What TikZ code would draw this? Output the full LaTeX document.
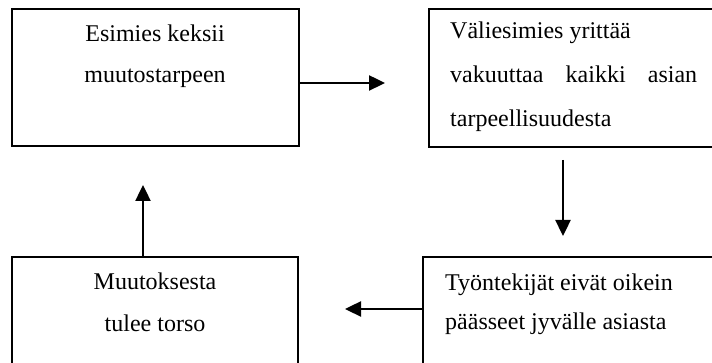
\documentclass[tikz,border=0pt]{standalone}
\usepackage{fontspec}
\setmainfont{Liberation Serif}
\usepackage{tikz}
\usetikzlibrary{calc}
\usetikzlibrary{arrows.meta}
\tikzstyle{box} = [draw, line width=1.4pt, rectangle, inner sep=0pt]
\tikzstyle{txt} = [inner sep=0pt, font=\fontsize{24}{28}\selectfont]
\tikzstyle{flow} = [line width=2.4pt, -{Triangle[length=16pt,width=15pt]}]

\begin{document}
\begin{tikzpicture}[x=1pt,y=1pt]
	\useasboundingbox (0,0) rectangle (712,363);
	\clip (0,0) rectangle (712,363);

	% laatikot
	\node[box, minimum width=287pt, minimum height=137pt] (esimies) at (155.5,285.5) {};
	\node[box, minimum width=311pt, minimum height=138pt] (valiesimies) at (584.5,285) {};
	\node[box, minimum width=317pt, minimum height=146pt] (tyontekijat) at (581.5,33) {};
	\node[box, minimum width=286pt, minimum height=146pt] (torso) at (155,33) {};

	% tekstit
	\node[txt, anchor=base] (esimies1) at (155,321) {Esimies keksii};
	\node[txt, anchor=base] (esimies2) at (155,280) {muutostarpeen};

	\node[txt, anchor=base west] (valiesimies1) at (450,324) {Väliesimies yrittää};
	\node[txt, anchor=base west] (valiesimies2) at (450,280) {\makebox[247pt][s]{vakuuttaa kaikki asian}};
	\node[txt, anchor=base west] (valiesimies3) at (450,236) {tarpeellisuudesta};

	\node[txt, anchor=base west] (tyontekijat1) at (445,72) {Työntekijät eivät oikein};
	\node[txt, anchor=base west] (tyontekijat2) at (445,33) {päässeet jyvälle asiasta};

	\node[txt, anchor=base] (torso1) at (155,73) {Muutoksesta};
	\node[txt, anchor=base] (torso2) at (155,31) {tulee torso};

	% nuolet
	\coordinate (ab) at (385,280);
	\coordinate (bctop) at (563,203);
	\coordinate (bc) at (563,127);
	\coordinate (cd) at (345,54);
	\coordinate (da) at (143,178);
	\draw[flow] (esimies.east |- ab) -- (ab);
	\draw[flow] (bctop) -- (bc);
	\draw[flow] (tyontekijat.west |- cd) -- (cd);
	\draw[flow] (torso.north -| da) -- (da);
\end{tikzpicture}
\end{document}
